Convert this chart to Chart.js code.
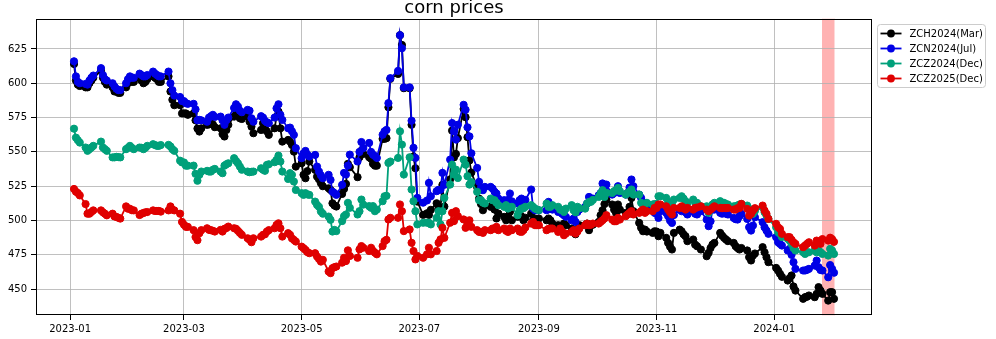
<!DOCTYPE html>
<html><head><meta charset="utf-8">
<script src="https://cdn.jsdelivr.net/npm/chart.js@4.4.1/dist/chart.umd.min.js"></script>
<style>html,body{margin:0;padding:0;background:#fff;}canvas{display:block;}</style>
</head><body>
<canvas id="c" width="996" height="339"></canvas>
<script>
const chartTitle = 'corn prices';
const seriesNames = ['ZCH2024(Mar)', 'ZCN2024(Jul)', 'ZCZ2024(Dec)', 'ZCZ2025(Dec)'];
const seriesColors = ['#000000', '#0000e6', '#00a07a', '#e00000'];
const firstDate = '2023-01-03';
const lastDate = '2024-02-01';
const holidays = ['2023-01-16','2023-02-20','2023-04-07','2023-05-29','2023-06-19','2023-07-04',
  '2023-09-04','2023-11-23','2023-12-25','2024-01-01','2024-01-15'];
const xTickLabels = ['2023-01','2023-03','2023-05','2023-07','2023-09','2023-11','2024-01'];
const yTickValues = [450, 475, 500, 525, 550, 575, 600, 625];
const spanStart = '2024-01-26';
const spanEnd = '2024-02-01';

// ZCH2024(Mar)
const zch2024 = [
 614,602,599,598,597,597,600,602,604,609,604,601,599,597,594,594,593,593,597,600,
 602,601,601,604,602,600,601,603,605,604,603,601,601,605,594,588,584,584,578,
 578,578,577,578,573,567,564.8,567.2,569.7,570,570.9,570,568,567.2,563,561.2,566,569.7,575.7,579.9,577,574.5,574,
 575.7,572,568.4,563.6,566,570.9,567.2,565,562.4,567.2,575.7,579.4,567.2,557.5,558.7,557.5,555,550.2,539.3,
 541.7,533.3,530.8,536,543,536.9,532,530,527.2,525,523.5,522.3,512.6,511,510.2,519.4,523,526.7,541.3,538.8,531.6,546.1,
 551,548.5,546.1,545,541.3,540,540,559.5,559.5,560,582.5,603.2,606.8,635,627.9,596.4,596.4,569.7,546.6,538.1,513.8,
 504.1,505.3,504.1,507.8,512.6,509,509,526,510.2,530,565.5,546,548.5,560,581.3,575.3,560.7,543.7,535,524.3,
 516,512,507.5,511.2,510,511.2,508,501.5,505.1,502.7,500.2,503,506.3,500.2,502.7,505.1,503,500.2,502,505.1,500.2,501.5,500,
 501.5,500.2,501.5,500.2,497.8,496.6,496,495.4,497.8,496.6,494.2,493,490,493,496.6,496.6,497.8,493,496.6,497,
 499,503.9,507.5,512,515.3,511.7,508,505.6,511.7,508,505.6,504.4,510,516.5,506.8,498.3,494.7,492.2,493.4,492,491,492.2,
 492,488.6,491,487.4,483.7,481,478.9,491,493.4,492.2,490,488.6,485,486.2,482.5,481.3,478.9,474,476.5,480,482.5,
 483.7,491,489,487.4,486.2,485,483.7,481.3,480,478.9,480,478.2,473.3,470.9,474.5,476,480.6,476.9,473.3,469.7,
 465.5,463.6,461.2,459,456.3,458,460,452,449,443,444.2,444.5,445.4,444.2,446.6,451.5,449,446.6,441.7,447.8,447.8,443
];
// ZCN2024(Jul)
const zcn2024 = [
 616,605,601,600,599.5,599,602,604,605.6,611,606,603,602,600,597.6,596,595,595,600,603,
 605,604,604,607,606,605,605,606,608.5,607,606,605,605,608.5,600,595,591,590,587,
 587,585.5,585,585,581,573,573.3,573,572,575,576,577,575.5,575.7,573,569.7,573,575,582,584.7,583,580,578.9,
 580.6,580,574.5,572,576,575,572.6,571.5,570.9,575,581.8,584.7,577,573.3,567.2,567.7,565,562.4,552.7,
 545.4,549,550.7,548,546.6,547.8,539.3,535.7,533,530.8,533.3,529.6,521,520,518.7,526,534.7,533.5,540,548,543,550,
 557.2,552.8,556.5,550,548,547,545.6,562.5,565,566,585.5,603.7,609,635,625.5,597,597,572.7,553,545.6,516.5,
 513,514.6,527.4,517.7,521.4,522.4,522.4,534.7,526,544.4,571,565,559,569.8,584.3,580.7,567.9,561.3,549,538.3,
 528.2,524,522.1,524.5,524.5,523.3,521,519.7,516,514.8,513.6,515,519.7,514,512.4,514.8,516,511.2,515,522.6,508.7,507.5,507.5,
 507.5,507.5,513.6,508.7,508,506.3,507.5,505,503.9,502.7,500.2,501.5,499,506.3,508,510,512.4,517.2,516,516,
 518.4,520,527,522.1,526.2,518.9,520.1,522,525,520.1,518.9,520.1,524,529.9,525,518.9,516.5,511.7,512.9,511.7,509.2,505.6,
 505,501.9,506.8,505.6,503.2,500,498.3,504,508,506.8,509.2,506,504.4,506.8,505,504.4,506.8,500.7,495.9,499.5,508,
 508,505.6,505,505.6,505,504.4,501.9,501,500.7,503.2,504.9,501.2,495.1,492.7,496.4,502.4,498.8,495.1,492.7,490.3,
 487.9,484.2,483,481.8,478.2,479.4,475,469.7,464.8,463.6,463.6,464.1,464.8,467.2,470.9,466,464,463.6,458.7,467.6,464.8,462
];
// ZCZ2024(Dec)
const zcz2024 = [
 566.9,560.4,558.5,556.8,553.2,550.8,552,553.2,554.4,557.5,553.2,552,550.8,546,546,546.4,546.2,546,552,553,
 554.4,553,552,553.2,553,552,553,554.4,555.6,555,554.4,554.4,555,555.1,554,552,550.8,543.6,542.3,
 542.3,540,540,540,534,529,533.3,535.7,536.2,535.7,535.7,537,537.6,535.7,534.5,540,541,541.7,545.4,543.4,541.7,539.3,537,
 535.7,535.2,535.5,535.7,538.1,537,536.2,540.5,541,542.5,544.2,547.3,543,535.7,530.3,534.5,533.3,528.4,522.3,
 519.9,518.7,519.9,519,518.7,513.8,511.4,510,506.6,505,502.9,500.5,492,493.2,492.3,499.6,503.2,504.4,512.9,509.3,504.4,506.8,
 515.3,511.6,510.5,509.3,510.5,506.8,508,514.1,517.7,518,542,543,545.6,565,555.3,533.5,546.1,522.6,514.1,506.8,497.2,
 498.4,498.4,498.4,497.2,502,506.8,497.2,506.8,516.5,526.2,540.7,533.5,537.1,531,544.4,540.7,532.3,526.2,528,520.9,
 514.8,514.8,513,512.4,516,514.8,514.8,513,511.2,510,511.2,508.7,509.5,510,503.9,507.5,508.7,509,510,511.2,510,508.7,508,
 507.5,512.4,510,510,511.2,510,508,507.5,506.3,508.7,511.2,507.5,506,510,509,508.7,512.4,513.6,513.6,515,
 517.2,519.7,522.1,517.2,520.1,520.1,521.4,522,523.8,521.4,518.9,520.1,521,522.6,518.9,518.9,512.9,511.7,511.7,512.9,511.7,512,
 512,517.7,517.7,516.5,512.9,512.9,513,515.3,516.5,517.7,516,514.1,512.9,515.3,513,512.9,510.4,510.4,505.6,509.2,511.7,
 512.9,514.1,513,512.9,512,511.7,510.4,510.4,511,511.7,512.1,510.9,508.5,507.3,504.9,507,509.7,506.1,503.6,501.2,
 495.1,491.5,490.3,488,486.7,485.4,483,480,478.2,476.9,475.7,476.9,476.9,478.2,476.9,478.2,477,475.7,474.5,479.4,478.2,475.7
];
// ZCZ2025(Dec)
const zcz2025 = [
 523,521,520,518.3,512,505,505,506.2,507.4,507.4,506,505,503.8,505,503,502.6,502,501.4,510.3,508.6,
 508.6,507.5,507.4,504,505,505.5,506,506.2,507.4,507,507,507,506.5,507.4,510.3,508,507.4,505,499,
 497,495.4,495.4,493,488,485.7,490.8,493,494.4,493.2,493,492.5,492,493.2,492,494,494.5,495.6,494.4,494,492.5,491,489.6,
 487.1,486,484.2,487.1,488.3,489.6,490,492,493,494.4,496.8,498,494.4,488.3,490.8,489.6,487,485.9,484.7,
 481,479.9,478.6,477,476.2,476.2,473.8,472,470.1,471.4,462.9,461.7,465.3,466,466.5,469.3,472.9,470.5,478.3,474.2,472.9,479,
 481.4,480.2,477.8,480.2,478,476.6,475.4,481.4,485,486,500.8,502,502,511.7,506.8,492.3,493.5,483.8,477.8,471.7,474.2,
 472.9,475.4,480.2,475.4,477.8,483.8,486.3,494.7,487.4,498.4,505.6,499.6,506.8,503.2,500.8,494.7,497,500.2,495.4,493,
 491.7,491.7,491,493,493,494.2,494,495.4,493,494.2,492.5,491.7,494.2,493,494.2,492,491.7,493,495,497.8,499,496.6,496.6,
 496.6,493,494,494.2,494.2,491.7,494.2,492,489.3,490.5,491.7,493,490.5,492,494.2,496.6,497.8,496.6,497,497.8,
 497.8,499,500.2,501.5,503.9,500.7,499.5,499.5,501.9,500.7,503.2,504.4,505.6,506.8,504.4,505.6,506.8,508,505.6,506.8,506.8,509.2,
 509.2,511.7,511.7,510.4,508,506,504.4,509.2,509.2,510.4,509,508,509.2,508,509.2,509.5,510.4,508,506.8,508,509.2,
 510.4,509.2,509,509.2,509,509.2,508,508,509,509.2,512.1,508.5,503.6,504.9,507.3,509,510.9,507.3,504.9,501.2,
 497.6,495.1,493.9,490.3,487.9,487.9,486,484.2,483,480.6,481.8,483,484.2,481.8,485.4,484,483,486.5,485.4,487.5,486.5,484.5
];

const FONT = 'DejaVu Sans';
const DAY = 86400000;
const EPOCH = Date.UTC(2023, 0, 1);
function dayNum(s) { const [y, m, d] = s.split('-').map(Number); return (Date.UTC(y, m - 1, d || 1) - EPOCH) / DAY; }

// trading-day calendar (weekdays minus exchange holidays)
const tradingDays = [];
(function () {
  const hol = new Set(holidays.map(dayNum));
  for (let d = dayNum(firstDate); d <= dayNum(lastDate); d++) {
    const wd = new Date(EPOCH + d * DAY).getUTCDay();
    if (wd !== 0 && wd !== 6 && !hol.has(d)) tradingDays.push(d);
  }
})();

const allSeries = [zch2024, zcn2024, zcz2024, zcz2025];
const datasets = allSeries.map((vals, i) => ({
  label: seriesNames[i],
  data: vals.map((v, k) => ({ x: tradingDays[k], y: v })),
  borderColor: seriesColors[i],
  backgroundColor: seriesColors[i],
  pointBackgroundColor: seriesColors[i],
  pointBorderColor: seriesColors[i],
  borderWidth: 1.8,
  pointRadius: 3.6,
  pointBorderWidth: 1,
  pointHoverRadius: 3.6,
  tension: 0,
  order: allSeries.length - i
}));

const dMin = tradingDays[0], dMax = tradingDays[Math.min(tradingDays.length, zch2024.length) - 1];
const xPad = 0.05 * (dMax - dMin);
const xTickDays = xTickLabels.map(dayNum);

const decor = {
  id: 'decor',
  beforeDraw(chart) {
    const { ctx, chartArea: a, scales: { x } } = chart;
    ctx.save();
    ctx.fillStyle = '#ffffff';
    ctx.fillRect(0, 0, chart.width, chart.height);
    const x0 = x.getPixelForValue(dayNum(spanStart));
    const x1 = x.getPixelForValue(dayNum(spanEnd));
    ctx.fillStyle = 'rgba(255,0,0,0.3)';
    ctx.fillRect(x0, a.top, x1 - x0, a.bottom - a.top);
    ctx.strokeStyle = 'rgba(255,0,0,0.15)';
    ctx.lineWidth = 1;
    ctx.strokeRect(Math.round(x0) + 0.5, a.top, Math.round(x1 - x0), a.bottom - a.top);
    ctx.restore();
  },
  afterDraw(chart) {
    const { ctx, chartArea: a } = chart;
    ctx.save();
    // frame
    ctx.strokeStyle = '#000';
    ctx.lineWidth = 1;
    ctx.strokeRect(Math.round(a.left) + 0.5, Math.round(a.top) + 0.5, Math.round(a.right - a.left) - 1, Math.round(a.bottom - a.top) - 1);
    // title
    ctx.fillStyle = '#000';
    ctx.font = '18px "' + FONT + '"';
    ctx.textAlign = 'center';
    ctx.textBaseline = 'alphabetic';
    ctx.fillText(chartTitle, (a.left + a.right) / 2, 13);
    // legend
    const lx = a.right + 5.5, ly = a.top + 5.5, lw = 108, lh = 63;
    ctx.beginPath();
    if (ctx.roundRect) ctx.roundRect(lx, ly, lw, lh, 3); else ctx.rect(lx, ly, lw, lh);
    ctx.fillStyle = 'rgba(255,255,255,0.8)';
    ctx.fill();
    ctx.strokeStyle = '#cccccc';
    ctx.lineWidth = 1;
    ctx.stroke();
    ctx.font = '10px "' + FONT + '"';
    ctx.textAlign = 'left';
    ctx.textBaseline = 'middle';
    chart.data.datasets.forEach((ds, i) => {
      const cy = ly + 9 + i * 15;
      ctx.strokeStyle = ds.borderColor;
      ctx.lineWidth = 1.8;
      ctx.beginPath();
      ctx.moveTo(lx + 3, cy);
      ctx.lineTo(lx + 24, cy);
      ctx.stroke();
      ctx.fillStyle = ds.borderColor;
      ctx.beginPath();
      ctx.arc(lx + 13.5, cy, 3.9, 0, Math.PI * 2);
      ctx.fill();
      ctx.fillStyle = '#000';
      ctx.fillText(ds.label, lx + 32, cy + 0.5);
    });
    ctx.restore();
  }
};

new Chart(document.getElementById('c'), {
  type: 'line',
  data: { datasets },
  options: {
    responsive: false,
    devicePixelRatio: 1,
    animation: false,
    layout: { padding: { top: 19, right: 124, left: 0, bottom: 0 } },
    plugins: { legend: { display: false }, title: { display: false }, tooltip: { enabled: false } },
    scales: {
      x: {
        type: 'linear',
        min: dMin - xPad,
        max: dMax + xPad,
        afterBuildTicks: s => { s.ticks = xTickDays.map(v => ({ value: v })); },
        afterFit: s => { s.height = 24; },
        ticks: {
          autoSkip: false, maxRotation: 0, padding: 3, color: '#000',
          font: { family: FONT, size: 10 },
          callback: (v, i) => xTickLabels[i]
        },
        grid: { color: '#b0b0b0', lineWidth: 0.8, tickColor: '#000', tickLength: 5, tickWidth: 1 },
        border: { display: false }
      },
      y: {
        type: 'linear',
        min: 431.2,
        max: 646.8,
        afterBuildTicks: s => { s.ticks = yTickValues.map(v => ({ value: v })); },
        afterFit: s => { s.width = 36; },
        ticks: {
          padding: 4, color: '#000',
          font: { family: FONT, size: 10 },
          callback: v => String(v)
        },
        grid: { color: '#b0b0b0', lineWidth: 0.8, tickColor: '#000', tickLength: 5, tickWidth: 1 },
        border: { display: false }
      }
    }
  },
  plugins: [decor]
});
</script>
</body></html>
